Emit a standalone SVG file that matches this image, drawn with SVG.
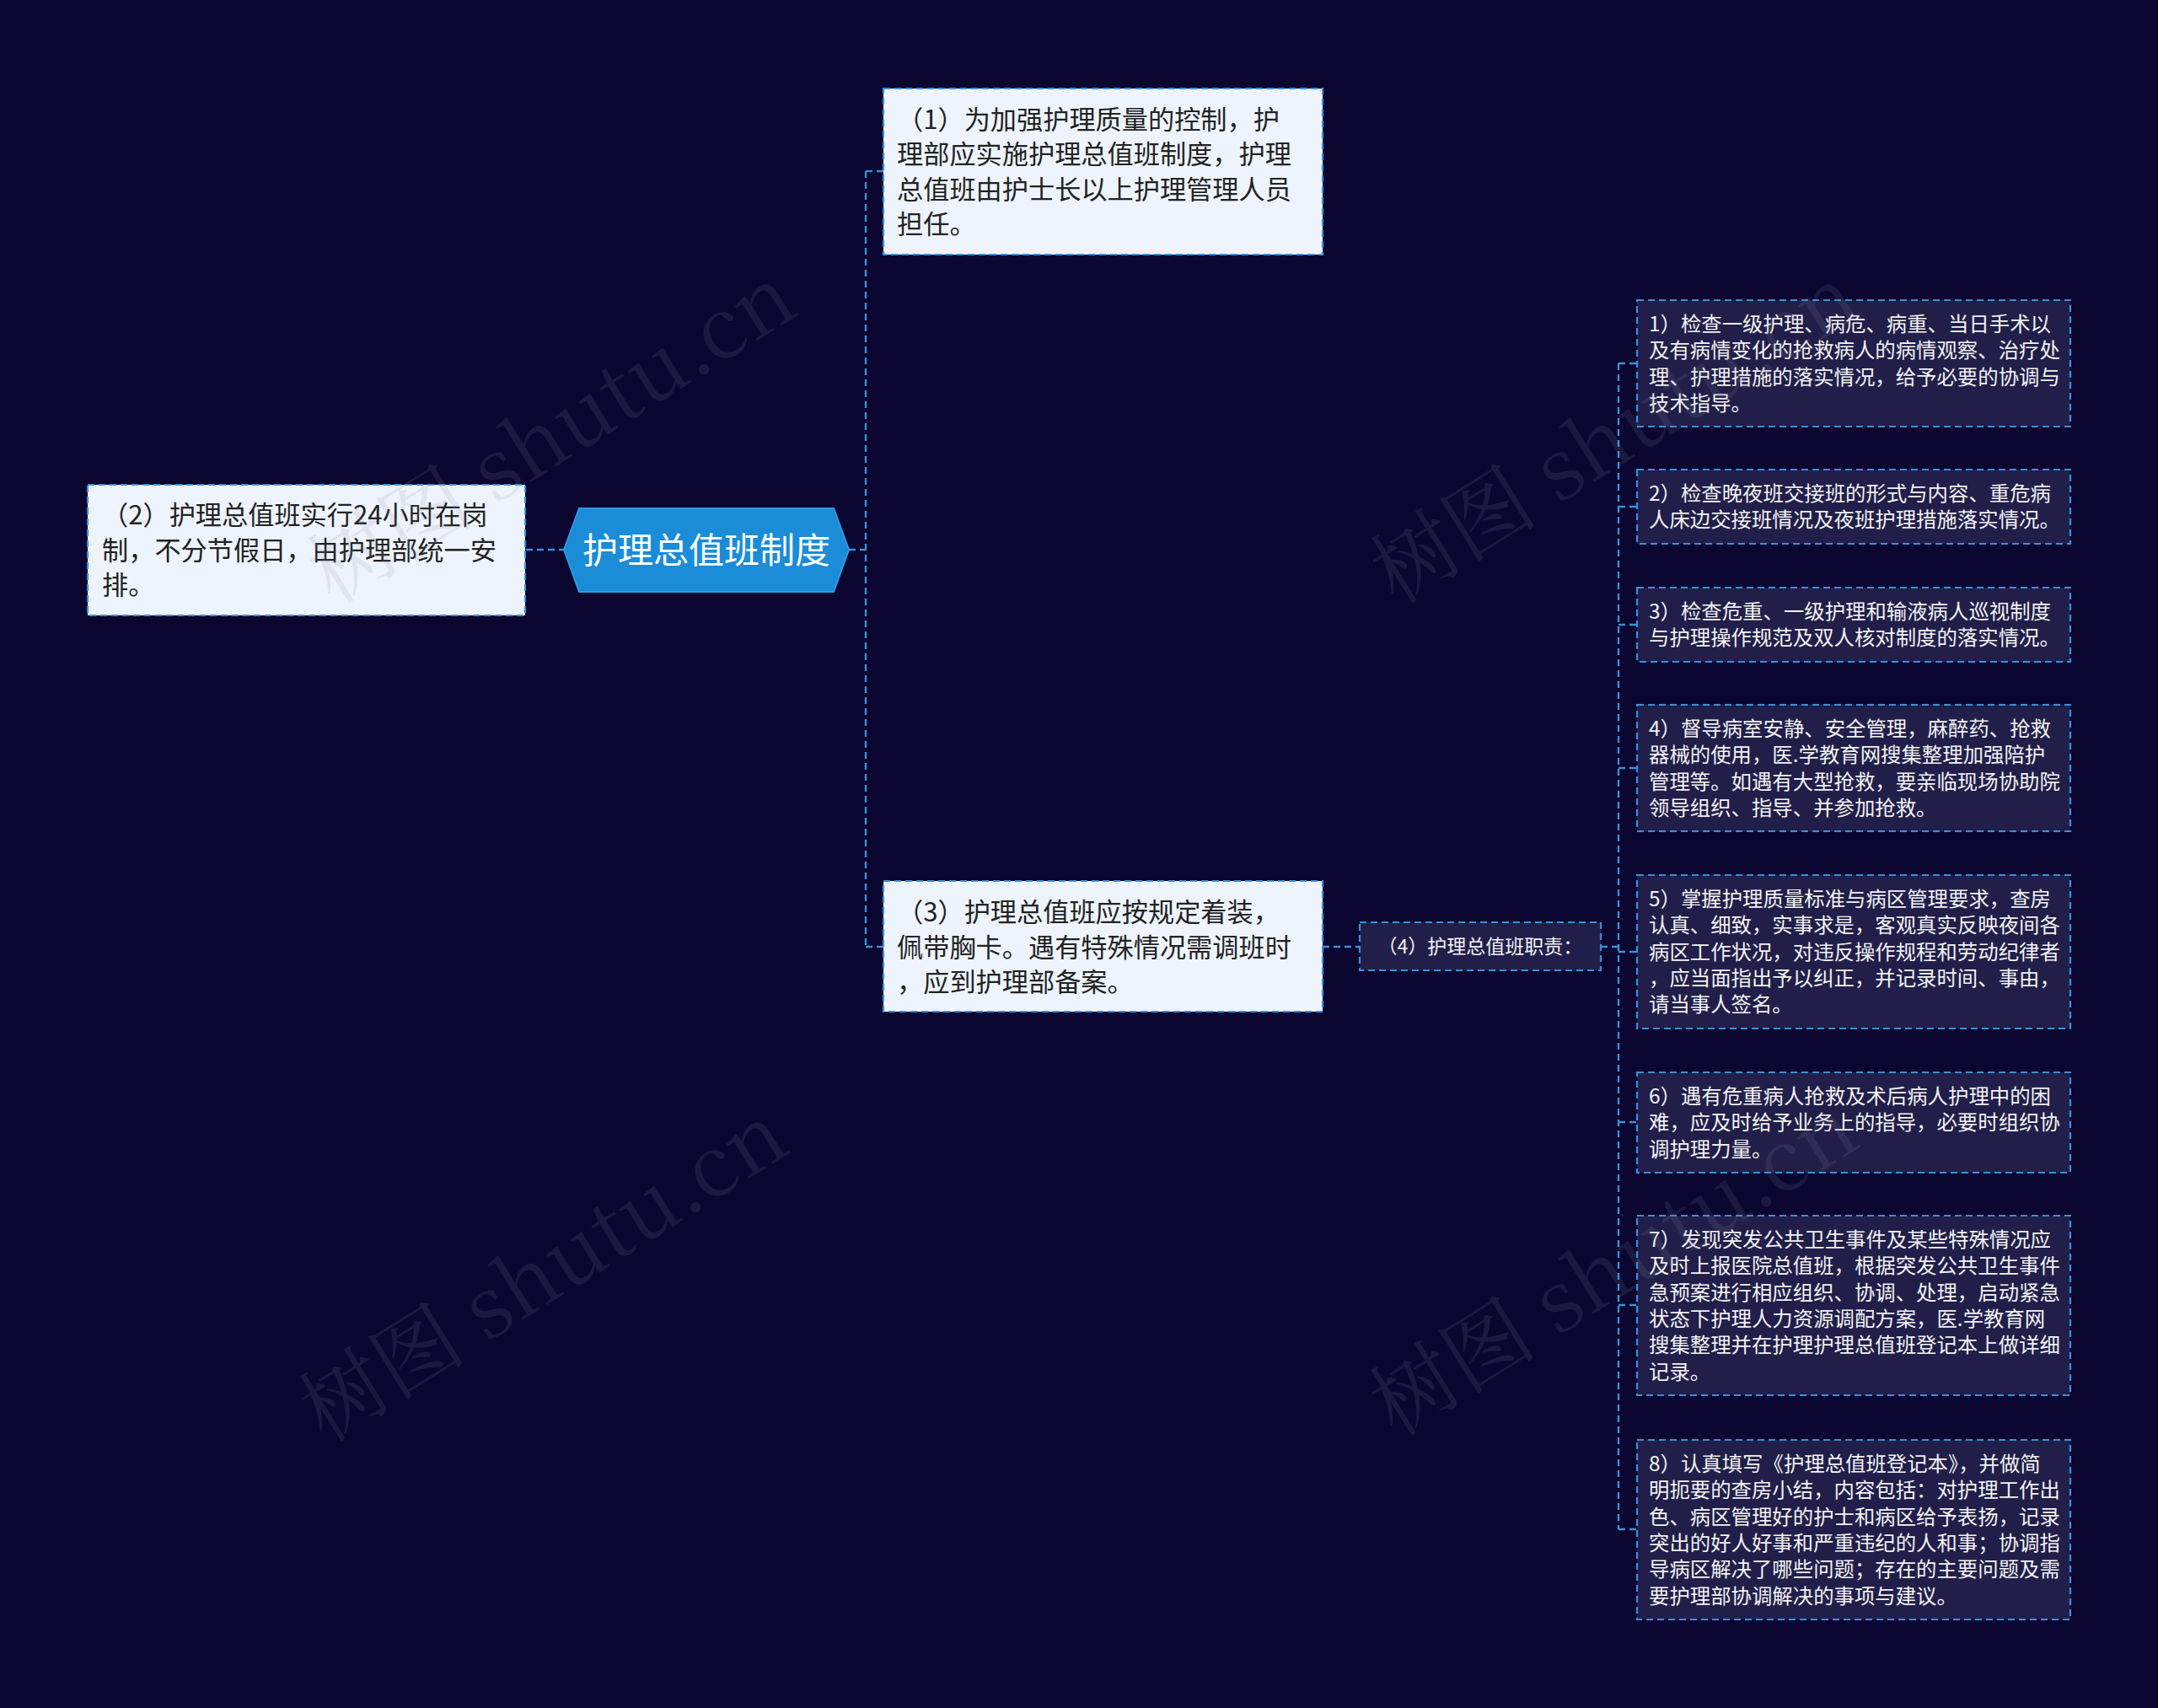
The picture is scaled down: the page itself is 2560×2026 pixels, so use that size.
<svg xmlns="http://www.w3.org/2000/svg" width="2560" height="2026" viewBox="0 0 2560 2026">
<style>
.t{font-family:"Noto Sans CJK SC","Noto Sans",sans-serif}
.lb{fill:#eef4fd;stroke:#3a90d8;stroke-width:2.2;stroke-dasharray:8 5}
.db{fill:#211f4a;stroke:#3a90d8;stroke-width:2.2;stroke-dasharray:8 5}
.lt{font-size:31.2px;fill:#222}
.dt{font-size:24.4px;fill:#f2f2f2}
.c{fill:none;stroke:#3a90d8;stroke-width:2.4;stroke-dasharray:8 5}
.wm{font-family:"Noto Serif CJK SC","Liberation Serif","Noto Sans CJK SC",serif;font-size:100px;fill:#8a8aa0;opacity:0.14}
</style>
<rect width="2560" height="2026" fill="#0a0630"/>
<g id="connectors">
<path class="c" d="M624 652 H669"/>
<path class="c" d="M1007 652 H1027"/>
<path class="c" d="M1027 203 V1123"/>
<path class="c" d="M1027 203 H1048"/>
<path class="c" d="M1027 1123 H1048"/>
<path class="c" d="M1569 1123 H1613"/>
<path class="c" d="M1899 1123 H1920"/>
<path class="c" d="M1920 431 V1814"/>
<path class="c" d="M1920 431 H1942"/>
<path class="c" d="M1920 601 H1942"/>
<path class="c" d="M1920 741 H1942"/>
<path class="c" d="M1920 911 H1942"/>
<path class="c" d="M1920 1129 H1942"/>
<path class="c" d="M1920 1331 H1942"/>
<path class="c" d="M1920 1548 H1942"/>
<path class="c" d="M1920 1814 H1942"/>
</g>
<g id="root">
<polygon points="669,652 687,603 989,603 1007,652 989,702 687,702" fill="#1a8cd8" stroke="#2f9ae2" stroke-width="2"/>
<text class="t" x="838" y="668" text-anchor="middle" font-size="42" fill="#ffffff">护理总值班制度</text>
</g>
<g id="n2">
<rect class="lb" x="104" y="575" width="519" height="155"/>
<text class="t lt" x="121" y="622">（2）护理总值班实行24小时在岗</text>
<text class="t lt" x="121" y="664">制，不分节假日，由护理部统一安</text>
<text class="t lt" x="121" y="705">排。</text>
</g>
<g id="n1">
<rect class="lb" x="1048" y="105" width="521" height="197"/>
<text class="t lt" x="1064" y="153">（1）为加强护理质量的控制，护</text>
<text class="t lt" x="1064" y="194">理部应实施护理总值班制度，护理</text>
<text class="t lt" x="1064" y="236">总值班由护士长以上护理管理人员</text>
<text class="t lt" x="1064" y="277">担任。</text>
</g>
<g id="n3">
<rect class="lb" x="1048" y="1045" width="521" height="155"/>
<text class="t lt" x="1064" y="1093">（3）护理总值班应按规定着装，</text>
<text class="t lt" x="1064" y="1135">佩带胸卡。遇有特殊情况需调班时</text>
<text class="t lt" x="1064" y="1176">，应到护理部备案。</text>
</g>
<g id="n4">
<rect class="db" x="1613" y="1094" width="286" height="57"/>
<text class="t" x="1756" y="1131" text-anchor="middle" font-size="23" fill="#f2f2f2">（4）护理总值班职责：</text>
</g>
<g id="r1">
<rect class="db" x="1942" y="356" width="514" height="150"/>
<text class="t dt" x="1956" y="393">1）检查一级护理、病危、病重、当日手术以</text>
<text class="t dt" x="1956" y="424">及有病情变化的抢救病人的病情观察、治疗处</text>
<text class="t dt" x="1956" y="456">理、护理措施的落实情况，给予必要的协调与</text>
<text class="t dt" x="1956" y="487">技术指导。</text>
</g>
<g id="r2">
<rect class="db" x="1942" y="557" width="514" height="88"/>
<text class="t dt" x="1956" y="594">2）检查晚夜班交接班的形式与内容、重危病</text>
<text class="t dt" x="1956" y="625">人床边交接班情况及夜班护理措施落实情况。</text>
</g>
<g id="r3">
<rect class="db" x="1942" y="697" width="514" height="88"/>
<text class="t dt" x="1956" y="734">3）检查危重、一级护理和输液病人巡视制度</text>
<text class="t dt" x="1956" y="765">与护理操作规范及双人核对制度的落实情况。</text>
</g>
<g id="r4">
<rect class="db" x="1942" y="836" width="514" height="150"/>
<text class="t dt" x="1956" y="873">4）督导病室安静、安全管理，麻醉药、抢救</text>
<text class="t dt" x="1956" y="904">器械的使用，医.学教育网搜集整理加强陪护</text>
<text class="t dt" x="1956" y="936">管理等。如遇有大型抢救，要亲临现场协助院</text>
<text class="t dt" x="1956" y="967">领导组织、指导、并参加抢救。</text>
</g>
<g id="r5">
<rect class="db" x="1942" y="1038" width="514" height="182"/>
<text class="t dt" x="1956" y="1075">5）掌握护理质量标准与病区管理要求，查房</text>
<text class="t dt" x="1956" y="1106">认真、细致，实事求是，客观真实反映夜间各</text>
<text class="t dt" x="1956" y="1138">病区工作状况，对违反操作规程和劳动纪律者</text>
<text class="t dt" x="1956" y="1169">，应当面指出予以纠正，并记录时间、事由，</text>
<text class="t dt" x="1956" y="1200">请当事人签名。</text>
</g>
<g id="r6">
<rect class="db" x="1942" y="1272" width="514" height="119"/>
<text class="t dt" x="1956" y="1309">6）遇有危重病人抢救及术后病人护理中的困</text>
<text class="t dt" x="1956" y="1340">难，应及时给予业务上的指导，必要时组织协</text>
<text class="t dt" x="1956" y="1372">调护理力量。</text>
</g>
<g id="r7">
<rect class="db" x="1942" y="1442" width="514" height="213"/>
<text class="t dt" x="1956" y="1479">7）发现突发公共卫生事件及某些特殊情况应</text>
<text class="t dt" x="1956" y="1510">及时上报医院总值班，根据突发公共卫生事件</text>
<text class="t dt" x="1956" y="1542">急预案进行相应组织、协调、处理，启动紧急</text>
<text class="t dt" x="1956" y="1573">状态下护理人力资源调配方案，医.学教育网</text>
<text class="t dt" x="1956" y="1604">搜集整理并在护理护理总值班登记本上做详细</text>
<text class="t dt" x="1956" y="1636">记录。</text>
</g>
<g id="r8">
<rect class="db" x="1942" y="1708" width="514" height="213"/>
<text class="t dt" x="1956" y="1745">8）认真填写《护理总值班登记本》，并做简</text>
<text class="t dt" x="1956" y="1776">明扼要的查房小结，内容包括：对护理工作出</text>
<text class="t dt" x="1956" y="1808">色、病区管理好的护士和病区给予表扬，记录</text>
<text class="t dt" x="1956" y="1839">突出的好人好事和严重违纪的人和事；协调指</text>
<text class="t dt" x="1956" y="1870">导病区解决了哪些问题；存在的主要问题及需</text>
<text class="t dt" x="1956" y="1902">要护理部协调解决的事项与建议。</text>
</g>
<g id="watermarks">
<text class="wm" text-anchor="middle" transform="translate(673,545) rotate(-32)">树图 shutu.cn</text>
<text class="wm" text-anchor="middle" transform="translate(1934,545) rotate(-32)">树图 shutu.cn</text>
<text class="wm" text-anchor="middle" transform="translate(663,1539) rotate(-32)">树图 shutu.cn</text>
<text class="wm" text-anchor="middle" transform="translate(1933,1532) rotate(-32)">树图 shutu.cn</text>
</g>
</svg>
